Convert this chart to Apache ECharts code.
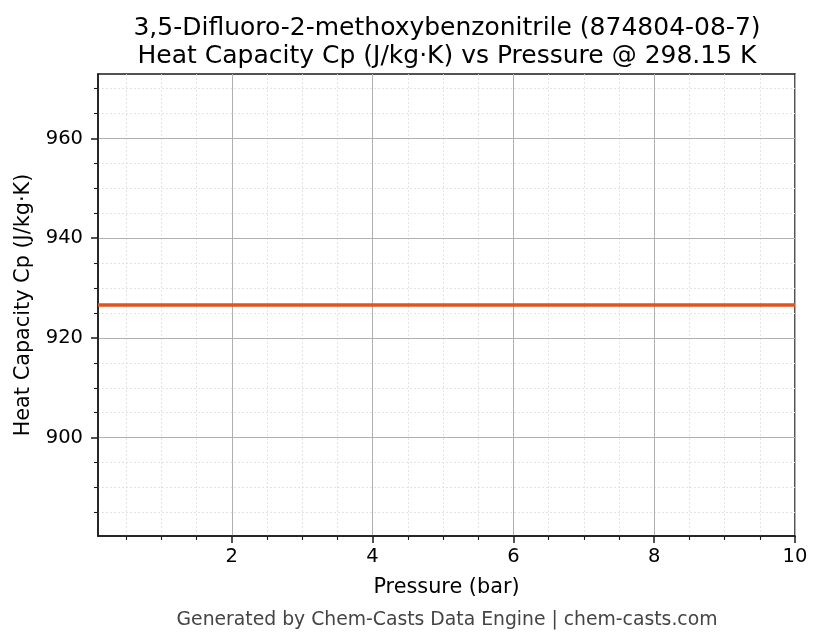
<!DOCTYPE html>
<html>
<head>
<meta charset="utf-8">
<script src="https://cdn.jsdelivr.net/npm/echarts@6/dist/echarts.min.js"></script>
<style>
html,body{margin:0;padding:0;background:#fff;}
#chart{width:823px;height:644px;}
</style>
</head>
<body>
<div id="chart"></div>
<script>
var titleLines = ["3,5-Difluoro-2-methoxybenzonitrile (874804-08-7)", "Heat Capacity Cp (J/kg\u00b7K) vs Pressure @ 298.15 K"];
var xName = "Pressure (bar)";
var yName = "Heat Capacity Cp (J/kg\u00b7K)";
var footer = "Generated by Chem-Casts Data Engine | chem-casts.com";
var pressures = [0.1, 0.5, 1, 1.5, 2, 2.5, 3, 3.5, 4, 4.5, 5, 5.5, 6, 6.5, 7, 7.5, 8, 8.5, 9, 9.5, 10];
var cpValues = [926.6, 926.6, 926.6, 926.6, 926.6, 926.6, 926.6, 926.6, 926.6, 926.6, 926.6, 926.6, 926.6, 926.6, 926.6, 926.6, 926.6, 926.6, 926.6, 926.6, 926.6];
var xMajorTicks = [2, 4, 6, 8, 10];
var xMinorTicks = [0.5, 1, 1.5, 2.5, 3, 3.5, 4.5, 5, 5.5, 6.5, 7, 7.5, 8.5, 9, 9.5];
var yMajorTicks = [900, 920, 940, 960];
var yMinorTicks = [885, 890, 895, 905, 910, 915, 925, 930, 935, 945, 950, 955, 965, 970];
var xRange = [0.1, 10];
var yRange = [880.27, 972.93];

var FONT = "DejaVu Sans";
var chart = echarts.init(document.getElementById('chart'), null, {renderer: 'canvas'});
var seriesData = pressures.map(function (p, i) { return [p, cpValues[i]]; });

function makeAxis(type, ticks, major, extra) {
  var ax = {
    type: 'value',
    min: type === 'x' ? xRange[0] : yRange[0],
    max: type === 'x' ? xRange[1] : yRange[1],
    position: type === 'x' ? 'bottom' : 'left',
    axisLine: {show: major, onZero: false, lineStyle: {color: '#1a1a1a', width: 1.5}},
    axisTick: {show: true, customValues: ticks, length: major ? 7 : 4, lineStyle: {color: '#1a1a1a', width: major ? 1.5 : 1.1}},
    axisLabel: {show: major, customValues: ticks, color: '#000', fontFamily: FONT, fontSize: 19.5, margin: type === 'x' ? 11 : 15},
    splitLine: {show: true, lineStyle: major ? {color: '#b0b0b0', width: 1, type: 'solid'} : {color: '#dddddd', width: 0.8, type: [2, 2]}},
    z: major ? 3 : 2
  };
  for (var k in extra) ax[k] = extra[k];
  return ax;
}

var option = {
  backgroundColor: '#fff',
  animation: false,
  title: [
    {text: titleLines[0] + '\n' + titleLines[1], left: 447, top: 14, padding: 0, textAlign: 'center',
     textStyle: {fontFamily: FONT, fontSize: 25, fontWeight: 'normal', color: '#000', lineHeight: 28}},
    {text: footer, left: 447, top: 611, padding: 0, textAlign: 'center',
     textStyle: {fontFamily: FONT, fontSize: 18.8, fontWeight: 'normal', color: '#444'}}
  ],
  grid: {left: 98, right: 28, top: 74, bottom: 108, show: true, borderColor: '#1a1a1a', borderWidth: 1.5, backgroundColor: 'transparent', containLabel: false},
  xAxis: [
    makeAxis('x', xMinorTicks, false, {}),
    makeAxis('x', xMajorTicks, true, {name: xName, nameLocation: 'middle', nameGap: 41,
      nameTextStyle: {fontFamily: FONT, fontSize: 20.8, color: '#000'}})
  ],
  yAxis: [
    makeAxis('y', yMinorTicks, false, {}),
    makeAxis('y', yMajorTicks, true, {name: yName, nameLocation: 'middle', nameGap: 64,
      nameTextStyle: {fontFamily: FONT, fontSize: 20.8, color: '#000'}})
  ],
  series: [{
    type: 'line',
    xAxisIndex: 1,
    yAxisIndex: 1,
    data: seriesData,
    showSymbol: false,
    symbol: 'none',
    lineStyle: {color: '#e0541f', width: 3.5},
    z: 10
  }]
};
chart.setOption(option);
</script>
</body>
</html>
